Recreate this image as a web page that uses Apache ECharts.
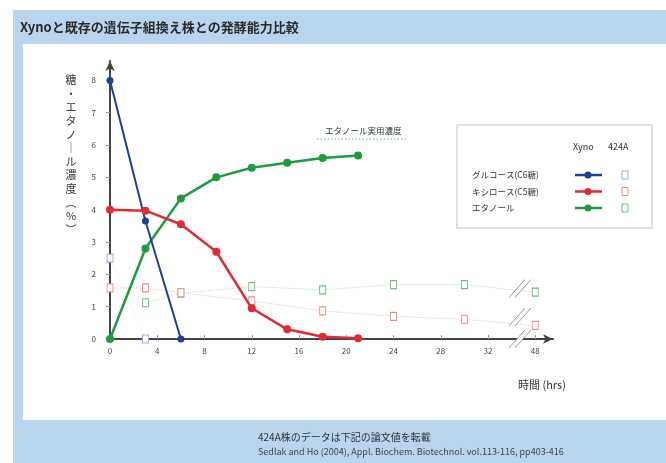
<!DOCTYPE html>
<html><head><meta charset="utf-8">
<script src="https://cdn.jsdelivr.net/npm/echarts@6/dist/echarts.min.js"></script>
<style>
html,body{margin:0;padding:0;background:#fff;}
#wrap{position:relative;width:666px;height:463px;overflow:hidden;background:#fff;}
#frame{position:absolute;left:13px;top:10px;width:653px;height:453px;background:#b9d5ee;}
#panel{position:absolute;left:23px;top:44px;width:643px;height:376px;background:#fff;}
#chart{position:absolute;left:0;top:0;width:666px;height:463px;}
</style></head>
<body><div id="wrap"><div id="frame"></div><div id="panel"></div><div id="chart"></div></div>
<script>
// ---- data ----
const timeTicks = [0, 4, 8, 12, 16, 20, 24, 28, 32, 48];
const yTicks = [0, 1, 2, 3, 4, 5, 6, 7, 8];
const xynoGlucoseHours = [0, 3, 6];
const xynoGlucose = [8.0, 3.65, 0];
const xynoHours = [0, 3, 6, 9, 12, 15, 18, 21];
const xynoXylose = [4.0, 3.97, 3.55, 2.7, 0.95, 0.3, 0.07, 0.02];
const xynoEthanol = [0, 2.8, 4.35, 5.0, 5.3, 5.45, 5.6, 5.68];
const a424GlucoseHours = [0, 3];
const a424Glucose = [2.5, 0];
const a424XyloseHours = [0, 3, 6, 12, 18, 24, 30, 48];
const a424Xylose = [1.58, 1.58, 1.43, 1.18, 0.87, 0.7, 0.61, 0.42];
const a424EthanolHours = [3, 6, 12, 18, 24, 30, 48];
const a424Ethanol = [1.12, 1.42, 1.62, 1.52, 1.68, 1.68, 1.45];
const legendRows = ['グルコース(C6糖)', 'キシロース(C5糖)', 'エタノール'];

// axis break: hours beyond 34 are shifted left by 12
const BREAK_AT = 34, BREAK_GAP = 12;
const toAxis = t => t <= BREAK_AT ? t : t - BREAK_GAP;
const fromAxis = v => v <= BREAK_AT ? v : v + BREAK_GAP;
const pairs = (hs, vs) => hs.map((h, i) => [toAxis(h), vs[i]]);

const C = {blue:'#1d3f95', red:'#e12a33', green:'#1f9a3e',
  lblue:'#8fb0da', lred:'#ea8c8c', lgreen:'#6dbd7b'};
const FONT = '"Noto Sans CJK JP", "Noto Sans", sans-serif';

const chart = echarts.init(document.getElementById('chart'), null, {renderer:'canvas'});

function solid(name, data, color, w, sz) {
  return {name, type:'line', data, z:5, symbol:'circle', symbolSize:sz,
    lineStyle:{color, width:w}, itemStyle:{color}, animation:false};
}
function hollow(name, data, color, lineColor) {
  return {name, type:'line', data, z:3, symbol:'rect', symbolSize:[6,8],
    lineStyle:{color:lineColor, width:1, type:'dotted'},
    itemStyle:{color:'#fff', borderColor:color, borderWidth:1}, animation:false};
}

chart.setOption({
  animation:false,
  grid:{left:110, right:113, top:61, bottom:124, containLabel:false},
  xAxis:{type:'value', min:0, max:37.5, interval:4,
    axisLine:{lineStyle:{color:'#444', width:2}, symbol:['none','arrow'], symbolSize:[7,10]},
    axisTick:{inside:true, length:4, lineStyle:{color:'#999'}},
    axisLabel:{color:'#444', fontSize:8, margin:8, showMaxLabel:false, fontFamily:FONT,
      formatter:v => { const h = fromAxis(v); return timeTicks.indexOf(h) >= 0 ? String(h) : ''; }},
    splitLine:{show:false}},
  yAxis:{type:'value', min:0, max:8.6, interval:1,
    axisLine:{show:true, lineStyle:{color:'#444', width:2}, symbol:['none','arrow'], symbolSize:[7,10]},
    axisTick:{show:true, length:4, lineStyle:{color:'#999'}},
    axisLabel:{color:'#444', fontSize:8, margin:14, showMaxLabel:false, fontFamily:FONT,
      formatter:v => yTicks.indexOf(v) >= 0 ? String(v) : ''},
    splitLine:{show:false}},
  series:[
    hollow('424A エタノール', pairs(a424EthanolHours, a424Ethanol), C.lgreen, '#bfe0c4'),
    hollow('424A キシロース', pairs(a424XyloseHours, a424Xylose), C.lred, '#f4c4c4'),
    hollow('424A グルコース', pairs(a424GlucoseHours, a424Glucose), C.lblue, '#e6eef8'),
    solid('Xyno エタノール', pairs(xynoHours, xynoEthanol), C.green, 2.5, 8),
    solid('Xyno キシロース', pairs(xynoHours, xynoXylose), C.red, 2.5, 8),
    solid('Xyno グルコース', pairs(xynoGlucoseHours, xynoGlucose), C.blue, 2, 7)
  ]
});

// ---- decorations ----
const g = [];
const txt = (x, y, s, o) => g.push({type:'text', x, y, z:10, style:Object.assign(
  {text:s, fill:'#333', font:'10px ' + FONT, textVerticalAlign:'middle'}, o || {})});

txt(20, 27, 'Xynoと既存の遺伝子組換え株との発酵能力比較', {font:'bold 13px ' + FONT, fill:'#2a2a2a'});
// vertical y-axis title
['糖','・','エ','タ','ノ','｜','ル','濃','度','︵','%','︶'].forEach((ch, i) =>
  txt(71, 80 + i * 13.6, ch, {font:'11px ' + FONT, textAlign:'center', fill:'#333'}));
txt(518, 385, '時間 (hrs)', {font:'11px ' + FONT, fill:'#333'});
txt(258, 437, '424A株のデータは下記の論文値を転載', {font:'10px ' + FONT, fill:'#333'});
txt(258, 452, 'Sedlak and Ho (2004), Appl. Biochem. Biotechnol. vol.113-116, pp403-416', {font:'9px ' + FONT, fill:'#444'});
// annotation
txt(325, 131, 'エタノール実用濃度', {font:'8.5px ' + FONT, fill:'#333'});
g.push({type:'line', z:10, shape:{x1:317, y1:139, x2:407, y2:139},
  style:{stroke:'#8fd19b', lineWidth:1.5, lineDash:[1.5,2]}});

// legend box
g.push({type:'rect', z:9, shape:{x:457, y:125, width:195, height:103},
  style:{fill:'#fff', stroke:'#cdd9e6', lineWidth:1.5}});
txt(573, 147, 'Xyno', {font:'9px ' + FONT, fill:'#333'});
txt(608, 147, '424A', {font:'9px ' + FONT, fill:'#333'});
[[C.blue, C.lblue], [C.red, C.lred], [C.green, C.lgreen]].forEach((c, i) => {
  const y = 175 + i * 16.5;
  txt(472, y, legendRows[i], {font:'8.5px ' + FONT, fill:'#333'});
  g.push({type:'line', z:10, shape:{x1:575, y1:y, x2:602, y2:y}, style:{stroke:c[0], lineWidth:2.5}});
  g.push({type:'circle', z:11, shape:{cx:588, cy:y, r:3.5}, style:{fill:c[0]}});
  g.push({type:'rect', z:11, shape:{x:622, y:y - 4, width:6, height:8}, style:{fill:'#fff', stroke:c[1], lineWidth:1}});
});

// break marks
function breakMark(val) {
  const p = chart.convertToPixel({gridIndex:0}, [34.7, val]);
  const dx = 8, dy = 9, off = 3;
  g.push({type:'polygon', z:12, shape:{points:[[p[0]-dx-off, p[1]+dy],[p[0]+dx-off, p[1]-dy],[p[0]+dx+off, p[1]-dy],[p[0]-dx+off, p[1]+dy]]},
    style:{fill:'#fff'}});
  [-off, off].forEach(o => g.push({type:'line', z:13,
    shape:{x1:p[0]-dx+o, y1:p[1]+dy, x2:p[0]+dx+o, y2:p[1]-dy}, style:{stroke:'#999', lineWidth:1}}));
}
breakMark(1.56);
breakMark(0.68);
breakMark(0);

chart.setOption({graphic:{elements:g}});
</script></body></html>
